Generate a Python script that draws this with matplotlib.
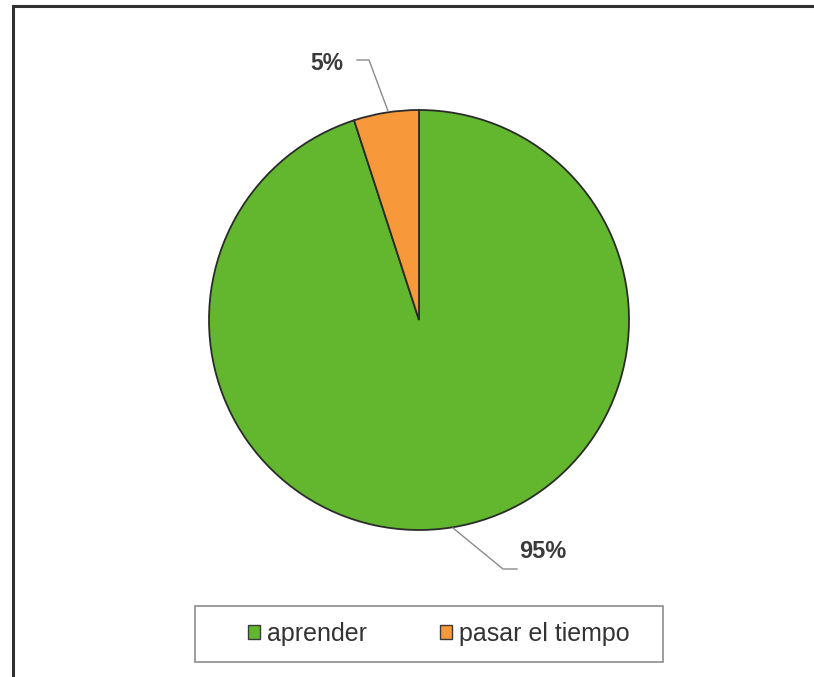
import matplotlib.pyplot as plt
from matplotlib.patches import Rectangle, Patch

# datos
categorias = ["aprender", "pasar el tiempo"]
valores = [95, 5]
etiquetas = ["95%", "5%"]
colores = ["#62b72e", "#f7983a"]

plt.rcParams['font.family'] = ['Liberation Sans', 'DejaVu Sans']

fig = plt.figure(figsize=(8.14, 6.77), dpi=100)
ax = fig.add_axes([0, 0, 1, 1])

# pastel (coordenadas en pixeles)
cx, cy, r = 419, 357, 210
ax.pie(valores, colors=colores, startangle=90, counterclock=False,
       center=(cx, cy), radius=r, frame=True,
       wedgeprops=dict(edgecolor="#2b2b2b", linewidth=1.3))
ax.set_xlim(0, 814)
ax.set_ylim(0, 677)
ax.set_aspect('equal')
ax.axis('off')

# etiquetas con lineas guia
ax.plot([453, 503, 517], [677 - 528, 677 - 569, 677 - 569], color="#8a8a8a", lw=1)
ax.text(519, 677 - 551, etiquetas[0], fontsize=17, fontweight='bold',
        color="#3a3a3a", va='center', ha='left')
ax.plot([357, 369, 388], [677 - 60, 677 - 60, 677 - 111], color="#8a8a8a", lw=1)
ax.text(327, 677 - 63, etiquetas[1], fontsize=16.5, fontweight='bold',
        color="#3a3a3a", va='center', ha='center')

# marco exterior
ax.add_patch(Rectangle((13, -20), 830, 677 - 6 + 20, fill=False,
                       edgecolor="#303030", lw=2.2, clip_on=False))

# leyenda
ax.add_patch(Rectangle((195, 677 - 662), 468, 56, fill=False,
                       edgecolor="#8c8c8c", lw=1.2))
handles = [Patch(facecolor=c, edgecolor="#3a3a3a", lw=1) for c in colores]
ax.legend(handles, categorias, loc='center', bbox_to_anchor=(439 / 814, 43 / 677),
          ncol=2, frameon=False, fontsize=18, handlelength=0.5,
          handleheight=0.5, handletextpad=0.28, columnspacing=2.9,
          labelcolor="#333333")

fig.savefig("out.png", dpi=100)
